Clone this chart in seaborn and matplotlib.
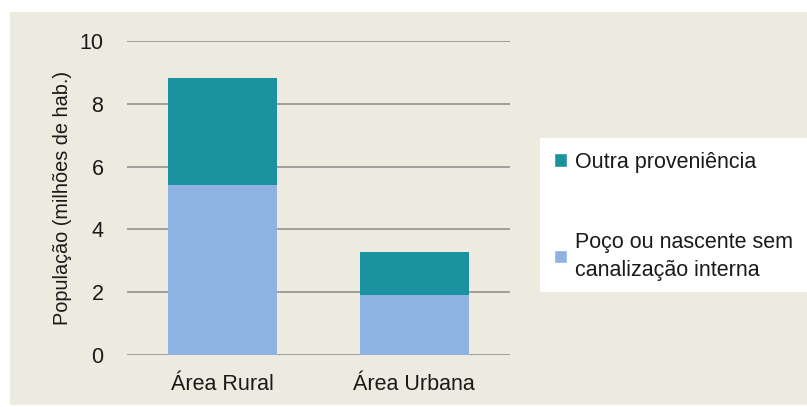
import matplotlib
matplotlib.use("Agg")
import matplotlib.pyplot as plt
import seaborn as sns
import pandas as pd
from matplotlib.patches import Patch, Rectangle

categories = ["Área Rural", "Área Urbana"]
poco = [5.41, 1.91]
outra = [3.41, 1.37]
series_names = ["Outra proveniência", "Poço ou nascente sem\ncanalização interna"]
yticks = [0, 2, 4, 6, 8, 10]

BG = "#EDEBE0"
TEAL = "#1B92A0"
LIGHT = "#8EB3E3"

sns.set_theme(style="white")
plt.rcParams["font.family"] = ["Liberation Sans", "DejaVu Sans"]

df = pd.DataFrame({"cat": categories, "poco": poco, "outra": outra})
df["total"] = df["poco"] + df["outra"]

fig = plt.figure(figsize=(8.07, 4.07), dpi=100, facecolor="white")
fig.patches.append(Rectangle((10 / 807, 2 / 407), 797 / 807, 393 / 407,
                             transform=fig.transFigure, facecolor=BG,
                             edgecolor="none", zorder=-5))
ax = fig.add_axes([127 / 807, 1 - 355 / 407, 383 / 807, 314 / 407])
ax.set_zorder(2)
ax.patch.set_alpha(0)

sns.barplot(data=df, x="cat", y="total", color=TEAL, width=0.57,
            saturation=1, ax=ax, zorder=3, linewidth=0, edgecolor="none")
sns.barplot(data=df, x="cat", y="poco", color=LIGHT, width=0.57,
            saturation=1, ax=ax, zorder=3, linewidth=0, edgecolor="none")

ax.set_xlim(-0.5, 1.5)
ax.set_ylim(0, 10)
ax.set_yticks(yticks)
ax.set_yticklabels([str(t) for t in yticks], fontsize=15.5)
ax.tick_params(axis="x", labelsize=15.5, length=0, pad=14, colors="#1a1a1a")
ax.tick_params(axis="y", length=0, pad=17, colors="#1a1a1a")
ax.yaxis.grid(True, color="#8A8A8A", linewidth=1.1, zorder=0)
ax.set_axisbelow(True)
for s in ax.spines.values():
    s.set_visible(False)
ax.set_xlabel("")
ax.set_ylabel("População (milhões de hab.)", fontsize=14.3, labelpad=5,
              color="#1a1a1a")

fig.patches.append(Rectangle((540 / 807, 1 - 292 / 407), 267 / 807, 154 / 407,
                             transform=fig.transFigure, facecolor="white",
                             edgecolor="none", zorder=1))
handles = [Patch(facecolor=TEAL), Patch(facecolor=LIGHT)]
leg = fig.legend(handles, series_names, loc="upper left",
                 bbox_to_anchor=(545 / 807, 1 - 143 / 407),
                 frameon=False, fontsize=15.5, handlelength=0.6,
                 handleheight=0.6, handletextpad=0.4, labelspacing=2.74,
                 borderaxespad=0)
leg.set_zorder(3)
for t in leg.get_texts():
    t.set_linespacing(1.45)
    t.set_color("#1a1a1a")

fig.savefig("out.png", dpi=100, facecolor="white")
